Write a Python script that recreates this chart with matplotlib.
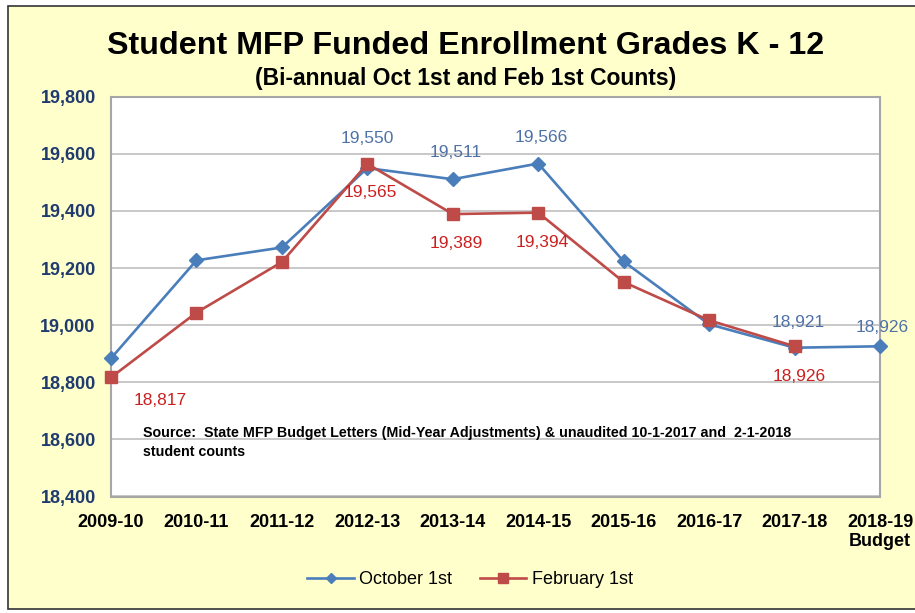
import matplotlib.pyplot as plt
from matplotlib.patches import Rectangle
from matplotlib.ticker import FuncFormatter

years = ['2009-10', '2010-11', '2011-12', '2012-13', '2013-14',
         '2014-15', '2015-16', '2016-17', '2017-18', '2018-19\nBudget']
october = [18884, 19227, 19272, 19550, 19511, 19566, 19223, 19003, 18921, 18926]
february = [18817, 19044, 19221, 19565, 19389, 19394, 19151, 19017, 18926]

# which points get a value label, and the pixel offset of each label
oct_labels = {3: (0, 30), 4: (3, 27), 5: (3, 26), 8: (4, 25), 9: (2, 19)}
feb_labels = {0: (49, -23), 3: (3, -29), 4: (3, -29), 5: (4, -30), 8: (5, -30)}

plt.rcParams['font.family'] = ['Liberation Sans', 'DejaVu Sans']

fig = plt.figure(figsize=(9.15, 6.13), dpi=100, facecolor='white')
fig.patches.append(Rectangle((8 / 915, 4 / 613), 1.0, 603 / 613, transform=fig.transFigure,
                             facecolor='#FFFFCC', edgecolor='#333333', lw=1.2, zorder=-5))

ax = fig.add_axes([111 / 915, 116.5 / 613, 769 / 915, 399.8 / 613])
ax.set_facecolor('white')

x = list(range(len(years)))
ax.plot(x, october, color='#4A7EBB', lw=1.9, marker='D', ms=7,
        label='October 1st', clip_on=False, zorder=3)
ax.plot(x[:len(february)], february, color='#BE4B48', lw=1.9, marker='s', ms=8.5,
        label='February 1st', clip_on=False, zorder=4)

for i, (dx, dy) in oct_labels.items():
    ax.annotate(f'{october[i]:,}', (i, october[i]), xytext=(dx, dy), textcoords='offset pixels',
                ha='center', va='center', fontsize=12.5, color='#4F72A6', zorder=5,
                annotation_clip=False)
for i, (dx, dy) in feb_labels.items():
    ax.annotate(f'{february[i]:,}', (i, february[i]), xytext=(dx, dy), textcoords='offset pixels',
                ha='center', va='center', fontsize=12.5, color='#CC2020', zorder=5,
                annotation_clip=False)

ax.set_xlim(0, len(years) - 1)
ax.set_ylim(18400, 19800)
ax.set_yticks(range(18400, 19801, 200))
ax.yaxis.set_major_formatter(FuncFormatter(lambda v, p: f'{int(v):,}'))
ax.set_xticks(x)
ax.set_xticklabels(years, fontsize=13, fontweight='bold', color='black', linespacing=1.2)
for t in ax.get_yticklabels():
    t.set_fontsize(13)
    t.set_fontweight('bold')
    t.set_color('#1F3A6E')
ax.tick_params(axis='x', length=0, pad=12.5)
ax.tick_params(axis='y', length=0, pad=11)
ax.grid(axis='y', color='#BFBFBF', lw=1.2)
ax.set_axisbelow(True)
for s in ax.spines.values():
    s.set_color('#A6A6A6')
    s.set_linewidth(1.5)

fig.text(466 / 915, 1 - 46 / 613, 'Student MFP Funded Enrollment Grades K - 12',
         ha='center', va='center', fontsize=23.2, fontweight='bold')
fig.text(466 / 915, 1 - 78 / 613, '(Bi-annual Oct 1st and Feb 1st Counts)',
         ha='center', va='center', fontsize=16.5, fontweight='bold')

fig.text(143 / 915, 1 - 433 / 613,
         'Source:  State MFP Budget Letters (Mid-Year Adjustments) & unaudited 10-1-2017 and  2-1-2018',
         ha='left', va='center', fontsize=10.3, fontweight='bold')
fig.text(143 / 915, 1 - 452 / 613, 'student counts',
         ha='left', va='center', fontsize=10.3, fontweight='bold')

fig.legend(loc='center', bbox_to_anchor=(470 / 915, 1 - 580 / 613), ncol=2, frameon=False,
           fontsize=13, handlelength=2.6, handletextpad=0.3, columnspacing=1.5,
           markerscale=0.8)

fig.savefig('out.png', dpi=100, facecolor='white')
